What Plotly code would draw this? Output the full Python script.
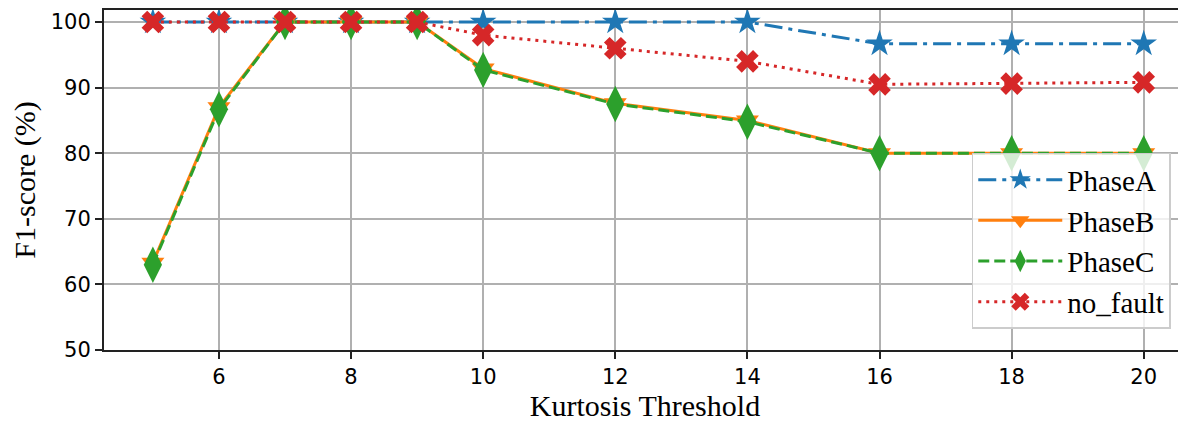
import plotly.graph_objects as go

thresholds = [5, 6, 7, 8, 9, 10, 12, 14, 16, 18, 20]
phase_a = [100, 100, 100, 100, 100, 100, 100, 100, 96.67, 96.67, 96.67]
phase_b = [63.3, 87.0, 100, 100, 100, 92.9, 87.6, 85.0, 80.0, 80.0, 80.0]
phase_c = [63.0, 86.7, 100, 100, 100, 92.7, 87.5, 84.8, 80.0, 80.0, 80.0]
no_fault = [100, 100, 100, 100, 100, 98.0, 96.0, 94.0, 90.5, 90.6, 90.8]

x_ticks = [6, 8, 10, 12, 14, 16, 18, 20]
y_ticks = [50, 60, 70, 80, 90, 100]

series = [
    ("PhaseA", phase_a, "#1f77b4", "18px,6px,4px,6px", "star", 20),
    ("PhaseB", phase_b, "#ff7f0e", "solid", "triangle-down", 20),
    ("PhaseC", phase_c, "#2ca02c", "11px,5px", "diamond-tall", 26),
    ("no_fault", no_fault, "#d62728", "3px,5px", "x", 20),
]

fig = go.Figure()
for name, vals, color, dash, sym, size in series:
    fig.add_trace(go.Scatter(
        x=thresholds, y=vals, name=name, mode="lines+markers",
        line=dict(color=color, width=3, dash=dash),
        marker=dict(symbol=sym, size=size, color=color, line=dict(width=0)),
    ))

axis_font = dict(family="DejaVu Sans", size=21, color="black")
title_font = dict(family="Liberation Serif", size=30, color="black")

# the page body has an 8px margin, so the figure is sized to fit the window
fig.update_layout(
    width=1178, height=415,
    margin=dict(l=96, r=0, t=2, b=73, autoexpand=False),
    paper_bgcolor="white", plot_bgcolor="white",
    showlegend=True,
    legend=dict(
        x=0.802, y=0.58, xanchor="left", yanchor="top",
        font=dict(family="Liberation Serif", size=29, color="black"),
        bgcolor="rgba(255,255,255,0.8)", bordercolor="#cccccc", borderwidth=1.5,
        itemwidth=84, tracegroupgap=0,
    ),
    xaxis=dict(
        range=[4.26, 20.64], tickvals=x_ticks, ticktext=[str(v) for v in x_ticks],
        showgrid=True, gridcolor="#b0b0b0", gridwidth=1.5,
        showline=True, linecolor="#222222", linewidth=2, mirror=True,
        ticks="outside", ticklen=7, tickwidth=1.5, tickcolor="#222222",
        tickfont=axis_font, zeroline=False, automargin=False,
        title=dict(text="Kurtosis Threshold", font=title_font, standoff=6),
    ),
    yaxis=dict(
        range=[50, 101.83], tickvals=y_ticks, ticktext=[str(v) for v in y_ticks],
        showgrid=True, gridcolor="#b0b0b0", gridwidth=1.5,
        showline=True, linecolor="#222222", linewidth=2, mirror=False,
        ticks="outside", ticklen=7, tickwidth=1.5, tickcolor="#222222",
        tickfont=axis_font, zeroline=False, automargin=False,
        title=dict(text="F1-score (%)", font=title_font, standoff=10),
    ),
)

fig.write_html("out.html")
